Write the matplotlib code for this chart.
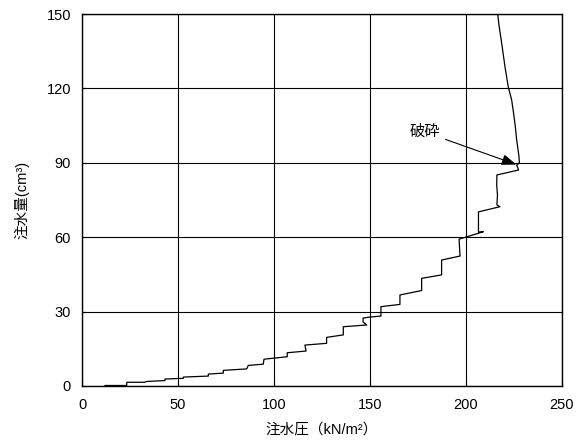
import matplotlib
matplotlib.use('Agg')
import matplotlib.pyplot as plt

plt.rcParams['font.family'] = ['Liberation Sans', 'Noto Sans CJK JP']

# injection pressure (kN/m2) vs injected volume (cm3), stepwise loading then rupture
pressure = [12.0, 23.3, 23.3, 32.8, 33.3, 43.2, 43.2, 52.8, 52.8, 65.8, 65.8,
            73.6, 73.6, 85.8, 86.6, 94.4, 94.8, 106.9, 106.9, 116.7, 116.1,
            127.4, 127.4, 136.1, 136.1, 148.3, 146.4, 146.4, 150.0, 155.7, 155.7,
            165.6, 165.6, 176.9, 176.9, 187.3, 187.3, 196.9, 196.4, 209.0, 206.5,
            206.5, 217.7, 216.1, 216.4, 216.0, 216.1, 227.4, 226.4, 227.8,
            227.6, 227.0, 226.4, 225.7, 224.8, 223.8, 222.0, 220.3, 218.6, 217.3, 216.5]
volume = [0.2, 0.2, 1.5, 1.5, 1.8, 2.2, 2.8, 3.1, 3.6, 4.0, 4.8,
          5.2, 6.3, 6.9, 8.3, 8.8, 10.8, 11.8, 13.4, 14.1, 16.5,
          17.2, 19.6, 20.6, 23.9, 24.6, 25.8, 27.4, 27.8, 28.2, 32.0,
          32.9, 36.7, 38.5, 43.4, 44.8, 50.8, 52.4, 59.2, 62.2, 62.1,
          70.2, 72.3, 73.0, 77.0, 81.0, 85.1, 87.1, 89.1, 90.0,
          92.5, 96.0, 99.2, 104.6, 110.0, 115.3, 120.7, 128.8, 138.2, 144.9, 150.0]

xticks = [0, 50, 100, 150, 200, 250]
yticks = [0, 30, 60, 90, 120, 150]

fig = plt.figure(figsize=(5.82, 4.45), dpi=100)
ax = fig.add_axes([0.1409, 0.1326, 0.8247, 0.8359])

ax.plot(pressure, volume, color='black', linewidth=0.9)

ax.set_xlim(0, 250)
ax.set_ylim(0, 150)
ax.set_xticks(xticks)
ax.set_yticks(yticks)
ax.grid(True, color='black', linewidth=0.8)
ax.tick_params(direction='in', length=3, labelsize=10.5, color='black')
ax.tick_params(axis='x', pad=9)
ax.tick_params(axis='y', pad=8)
for s in ax.spines.values():
    s.set_linewidth(1.0)
    s.set_color('black')

ax.set_xlabel('注水圧（kN/m²）', fontsize=10.5, labelpad=7)
ax.set_ylabel('注水量(cm³)', fontsize=10.5, labelpad=12)

ax.annotate('破砕', xy=(226.2, 89.3), xytext=(178.6, 102.4),
            fontsize=11, ha='center', va='center',
            arrowprops=dict(arrowstyle='-|>,head_length=0.8,head_width=0.3',
                            color='black', lw=0.8, shrinkA=2, shrinkB=0))

fig.savefig('out.png', dpi=100)
